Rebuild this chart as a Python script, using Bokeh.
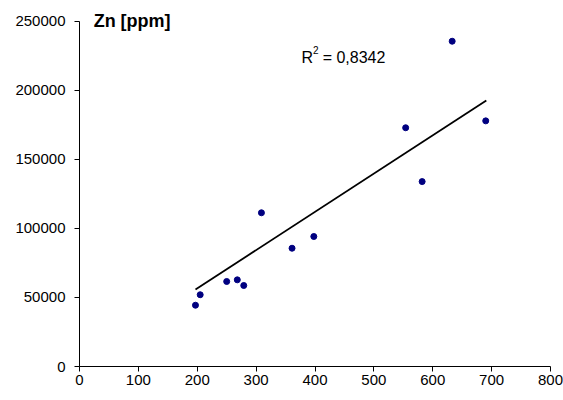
from bokeh.plotting import figure
from bokeh.models import Range1d, FixedTicker, Label, BasicTickFormatter
from bokeh.embed import file_html
from bokeh.resources import INLINE

# data
x_vals = [197, 205, 250, 268, 279, 309, 361, 398, 554, 582, 633, 690]
zn_ppm = [44400, 52000, 61600, 62800, 58700, 111400, 85700, 94200, 173000, 134000, 235700, 178000]
# linear trend line end points, as drawn in the reference
trend_x = [197, 691]
trend_y = [55800, 192700]
x_ticks = [0, 100, 200, 300, 400, 500, 600, 700, 800]
y_ticks = [0, 50000, 100000, 150000, 200000, 250000]
y_title = "Zn [ppm]"
r2_value = "0,8342"

FONT = "Liberation Sans"

# the frame extends a little above 250000 so the title text is not clipped;
# the axis itself is bounded to 0..250000
p = figure(width=563, height=400, output_backend="svg", toolbar_location=None,
           x_range=Range1d(0, 800), y_range=Range1d(0, 259420),
           min_border_left=79, min_border_right=13, min_border_top=8, min_border_bottom=34)
p.outline_line_color = None
p.xgrid.visible = False
p.ygrid.visible = False
p.background_fill_color = "white"
p.border_fill_color = "white"

for ax in (p.xaxis[0], p.yaxis[0]):
    ax.axis_line_color = "black"
    ax.axis_line_width = 1
    ax.major_tick_line_color = "black"
    ax.major_tick_out = 5
    ax.major_tick_in = 0
    ax.minor_tick_line_color = None
    ax.major_label_text_font = FONT
    ax.major_label_text_font_size = "15px"
    ax.major_label_text_color = "black"
    ax.formatter = BasicTickFormatter(use_scientific=False)

p.xaxis[0].ticker = FixedTicker(ticks=x_ticks)
p.yaxis[0].ticker = FixedTicker(ticks=y_ticks)
p.yaxis[0].bounds = (0, 250000)
p.xaxis[0].major_label_standoff = 3
p.yaxis[0].major_label_standoff = 9

p.line(trend_x, trend_y, line_color="black", line_width=1.8)

p.scatter(x_vals, zn_ppm, size=6, fill_color="#000080", line_color="#000080", marker="circle")

p.add_layout(Label(x=24, y=250250, text=y_title, text_font=FONT, text_font_size="18px",
                   text_font_style="bold", text_color="black", text_baseline="alphabetic"))
p.add_layout(Label(x=377, y=224150, text="R", text_font=FONT, text_font_size="16px",
                   text_color="black", text_baseline="alphabetic"))
p.add_layout(Label(x=396.5, y=229150, text="2", text_font=FONT, text_font_size="10px",
                   text_color="black", text_baseline="alphabetic"))
p.add_layout(Label(x=413, y=224150, text="= " + r2_value, text_font=FONT, text_font_size="16px",
                   text_color="black", text_baseline="alphabetic"))

open("out.html", "w").write(file_html(p, INLINE))
